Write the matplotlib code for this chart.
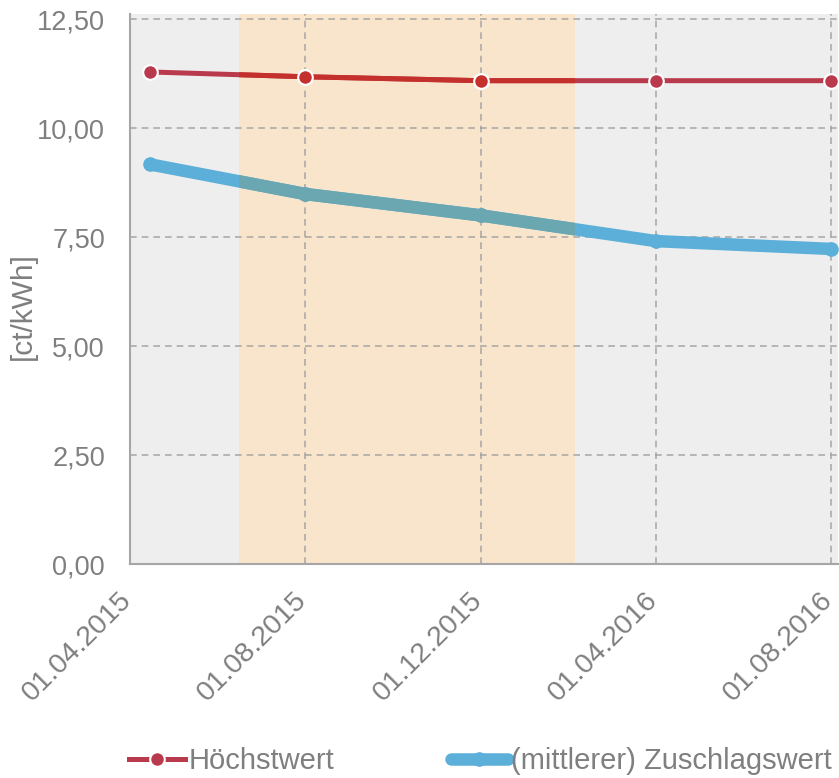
#!/usr/bin/env python3
"""PV-Ausschreibungen: Hoechstwert vs. mittlerer Zuschlagswert."""
import numpy as np
import pandas as pd
import matplotlib
matplotlib.use('Agg')
import matplotlib.pyplot as plt
import matplotlib.dates as mdates
import matplotlib.transforms as mtransforms
from matplotlib.ticker import FuncFormatter

plt.rcParams['font.family'] = ['Liberation Sans', 'DejaVu Sans']

# Data
dates = pd.to_datetime(['2015-04-15', '2015-08-01', '2015-12-01', '2016-04-01', '2016-08-01'])
hoechstwert = [11.29, 11.18, 11.09, 11.09, 11.09]
zuschlag = [9.17, 8.49, 8.00, 7.41, 7.23]
tick_dates = pd.to_datetime(['2015-04-01', '2015-08-01', '2015-12-01', '2016-04-01', '2016-08-01'])
y_ticks = [0, 2.5, 5, 7.5, 10, 12.5]
band = pd.to_datetime(['2015-06-16', '2016-02-05'])

RED = '#BA3A4D'
RED_IN = '#C4302C'
BLUE = '#5BAFD8'
BLUE_IN = '#6AA7B0'
GREY_TXT = '#7F7F7F'

fig = plt.figure(figsize=(8.39, 7.78), dpi=100)
ax = fig.add_axes([0.155, 0.275, 0.844, 0.707])
ax.set_facecolor('#EEEEEE')

span = ax.axvspan(band[0], band[1], color='#F9E5CB', zorder=1, lw=0)

# lines (second copy tinted inside the highlighted period)
l_blue, = ax.plot(dates, zuschlag, '-o', color=BLUE, lw=9, markersize=9.5,
                  solid_capstyle='round', label='(mittlerer) Zuschlagswert', zorder=3)
l_blue2, = ax.plot(dates, zuschlag, '-o', color=BLUE_IN, lw=9, markersize=9.5,
                   solid_capstyle='round', zorder=3.1)
l_blue2.set_clip_path(span)

l_red, = ax.plot(dates, hoechstwert, '-o', color=RED, lw=3.6, markersize=10.5,
                 markeredgecolor='white', markeredgewidth=1.5, label='Höchstwert', zorder=4)
l_red2, = ax.plot(dates, hoechstwert, '-o', color=RED_IN, lw=3.6, markersize=10.5,
                  markeredgecolor='white', markeredgewidth=1.5, zorder=4.1)
l_red2.set_clip_path(span)

ax.set_xlim(pd.Timestamp('2015-04-01'), pd.Timestamp('2016-08-06'))
ax.set_ylim(0, 12.62)
ax.set_xticks(tick_dates)
ax.xaxis.set_major_formatter(mdates.DateFormatter('%d.%m.%Y'))
ax.set_yticks(y_ticks)
ax.yaxis.set_major_formatter(FuncFormatter(lambda v, p: f'{v:.2f}'.replace('.', ',')))

ax.set_axisbelow('line')
ax.grid(True, color='#A0A0A0', linestyle=(0, (4, 3)), linewidth=1.2, alpha=0.85)
for s in ['top', 'right']:
    ax.spines[s].set_visible(False)
for s in ['left', 'bottom']:
    ax.spines[s].set_color('#A6A6A6')
    ax.spines[s].set_linewidth(1.5)

ax.tick_params(axis='both', length=0, labelcolor=GREY_TXT)
ax.tick_params(axis='y', pad=18, labelsize=19.5)
ax.tick_params(axis='x', pad=27, labelsize=20.5)
shift = mtransforms.ScaledTranslation(2 / 72, 0, fig.dpi_scale_trans)
for lab in ax.get_xticklabels():
    lab.set_rotation(45)
    lab.set_ha('right')
    lab.set_va('baseline')
    lab.set_rotation_mode('anchor')
    lab.set_transform(lab.get_transform() + shift)

ax.set_ylabel('[ct/kWh]', fontsize=21.5, color=GREY_TXT)
ax.yaxis.set_label_coords(-0.131, 0.469)

fig.legend(handles=[l_red, l_blue], loc='lower center', bbox_to_anchor=(0.572, -0.03),
           ncol=2, frameon=False, fontsize=21, labelcolor=GREY_TXT,
           handlelength=1.95, handletextpad=0.1, columnspacing=4.0)

plt.savefig('out.png', dpi=100)
print("Saved out.png")
